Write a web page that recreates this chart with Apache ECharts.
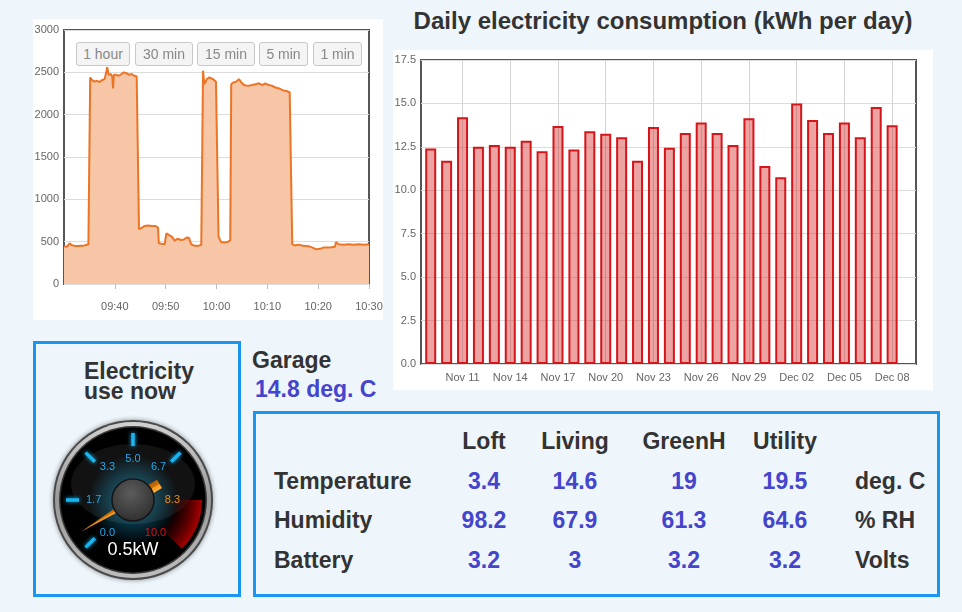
<!DOCTYPE html>
<html>
<head>
<meta charset="utf-8">
<title>Energy dashboard</title>
<script src="https://cdn.jsdelivr.net/npm/echarts@6.0.0/dist/echarts.min.js"></script>
<style>
  html, body { margin: 0; padding: 0; }
  body {
    width: 962px; height: 612px; position: relative; overflow: hidden;
    background: #eef6fc; color: #333;
    font-family: "Liberation Sans", Arial, sans-serif;
  }
  .abs { position: absolute; }
  .white { background: #fff; }
  .range-btn {
    position: absolute; top: 42px; height: 24px; box-sizing: border-box;
    border: 1px solid #c8c8c8; border-radius: 3px; background: #f4f4f4;
    color: #888; font-size: 14px; line-height: 22px; text-align: center;
  }
  .big { font-size: 23px; font-weight: bold; line-height: 28px; white-space: nowrap; }
  .blue { color: #4444cc; }
  .boxed { box-sizing: border-box; border: 3px solid #1b96ef; }
</style>
</head>
<body>
<div id="power-chart" class="abs white" style="left:33px;top:19px;width:350px;height:301px;"></div>
<div id="range-buttons"></div>

<div class="abs" style="left:393px;top:6px;width:540px;text-align:center;font-size:24px;font-weight:bold;line-height:30px;">Daily electricity consumption (kWh per day)</div>
<div id="daily-chart" class="abs white" style="left:393px;top:50px;width:540px;height:340px;"></div>

<div class="abs boxed" style="left:33px;top:341px;width:208px;height:256px;"></div>
<div class="abs" style="left:84px;top:361px;font-size:23px;font-weight:bold;line-height:20px;">Electricity<br>use now</div>
<div id="gauge-chart" class="abs" style="left:48px;top:415px;width:170px;height:170px;"></div>

<div class="abs big" style="left:252px;top:346px;">Garage</div>
<div id="garage-temp" class="abs big blue" style="left:255px;top:375px;"></div>

<div class="abs boxed" style="left:253px;top:411px;width:687px;height:186px;"></div>
<div id="sensor-table"></div>

<script>
  // --- Data ---
  var rangeButtons = ["1 hour", "30 min", "15 min", "5 min", "1 min"];

  var powerTimes = [
    "09:30:00", "09:30:36", "09:31:06", "09:31:30", "09:32:00", "09:33:00", "09:34:00", "09:34:48",
    "09:35:00", "09:35:09", "09:35:30", "09:36:00", "09:36:30", "09:37:00", "09:37:30", "09:38:00",
    "09:38:18", "09:38:30", "09:38:48", "09:39:12", "09:39:30", "09:39:39", "09:39:48", "09:40:18",
    "09:40:48", "09:41:18", "09:41:48", "09:42:18", "09:42:48", "09:43:18", "09:43:48", "09:44:18",
    "09:44:36", "09:44:45", "09:45:12", "09:45:48", "09:46:30", "09:47:18", "09:48:00", "09:48:30",
    "09:48:39", "09:49:12", "09:49:48", "09:50:09", "09:50:36", "09:51:12", "09:51:48", "09:52:18",
    "09:53:00", "09:53:36", "09:54:12", "09:54:36", "09:55:00", "09:55:30", "09:56:18", "09:57:00",
    "09:57:12", "09:57:21", "09:57:36", "09:58:06", "09:58:36", "09:59:18", "09:59:54", "10:00:12",
    "10:00:24", "10:00:54", "10:01:36", "10:02:18", "10:02:42", "10:02:54", "10:03:18", "10:03:54",
    "10:04:24", "10:04:54", "10:05:24", "10:06:12", "10:07:00", "10:07:42", "10:08:24", "10:09:00",
    "10:09:36", "10:10:18", "10:11:00", "10:11:36", "10:12:18", "10:13:00", "10:13:42", "10:14:24",
    "10:14:45", "10:14:54", "10:15:24", "10:16:06", "10:16:48", "10:17:30", "10:18:12", "10:18:54",
    "10:19:36", "10:20:24", "10:21:00", "10:21:48", "10:22:36", "10:23:18", "10:23:30", "10:24:00",
    "10:25:00", "10:26:00", "10:27:00", "10:28:00", "10:29:00", "10:30:00"
  ];
  var powerWatts = [
    445, 440, 480, 460, 450, 450, 455, 470,
    480, 2440, 2410, 2390, 2400, 2385, 2410, 2420,
    2500, 2560, 2470, 2480, 2450, 2310, 2470, 2470,
    2460, 2480, 2500, 2490, 2470, 2480, 2460, 2450,
    2430, 650, 660, 685, 690, 685, 685, 665,
    480, 475, 470, 600, 580, 560, 510, 535,
    520, 525, 550, 545, 470, 455, 450, 460,
    480, 2520, 2360, 2420, 2440, 2420, 2390, 2380,
    560, 495, 490, 500, 520, 2360, 2380, 2390,
    2420, 2380, 2350, 2340, 2350, 2360, 2370, 2350,
    2370, 2350, 2340, 2320, 2310, 2290, 2280, 2265,
    2260, 470, 455, 465, 455, 450, 445, 430,
    410, 415, 430, 430, 435, 440, 495, 470,
    465, 470, 465, 470, 465, 470
  ];

  var dayLabels = [
    "Nov 09", "Nov 10", "Nov 11", "Nov 12", "Nov 13", "Nov 14", "Nov 15", "Nov 16", "Nov 17", "Nov 18",
    "Nov 19", "Nov 20", "Nov 21", "Nov 22", "Nov 23", "Nov 24", "Nov 25", "Nov 26", "Nov 27", "Nov 28",
    "Nov 29", "Nov 30", "Dec 01", "Dec 02", "Dec 03", "Dec 04", "Dec 05", "Dec 06", "Dec 07", "Dec 08"
  ];
  var dailyKwh = [
    12.4, 11.7, 14.2, 12.5, 12.6, 12.5, 12.85, 12.25, 13.7, 12.35,
    13.4, 13.25, 13.05, 11.7, 13.65, 12.45, 13.3, 13.9, 13.3, 12.6,
    14.15, 11.4, 10.75, 15.0, 14.05, 13.3, 13.9, 13.05, 14.8, 13.75
  ];
  var dayTickLabels = ["Nov 11", "Nov 14", "Nov 17", "Nov 20", "Nov 23", "Nov 26", "Nov 29", "Dec 02", "Dec 05", "Dec 08"];

  var powerNowKw = 0.5;
  var garageTemp = "14.8";

  var tableColumns = ["Loft", "Living", "GreenH", "Utility"];
  var tableRows = ["Temperature", "Humidity", "Battery"];
  var tableUnits = ["deg. C", "% RH", "Volts"];
  var temperatureValues = ["3.4", "14.6", "19", "19.5"];
  var humidityValues = ["98.2", "67.9", "61.3", "64.6"];
  var batteryValues = ["3.2", "3", "3.2", "3.2"];

  var FONT = "Liberation Sans, Arial, sans-serif";
  var LABEL = "#666";
  var GRID = "#dcdcdc";
  var FRAME = "#555";

  // --- Range buttons (html) ---
  var btnLeft = [76, 135, 197, 259, 313];
  var btnWidth = [54, 58, 58, 49, 49];
  var btnHtml = "";
  rangeButtons.forEach(function (b, i) {
    btnHtml += '<div class="range-btn" style="left:' + btnLeft[i] + 'px;width:' + btnWidth[i] + 'px;">' + b + "</div>";
  });
  document.getElementById("range-buttons").innerHTML = btnHtml;

  // --- Power chart (last hour) ---
  function toMinutes(t) {
    var p = t.split(":");
    return (Number(p[0]) * 60 + Number(p[1]) + Number(p[2]) / 60) - (9 * 60 + 30);
  }
  function clockLabel(m) {
    var total = 9 * 60 + 30 + m;
    var h = Math.floor(total / 60), mm = total % 60;
    return (h < 10 ? "0" : "") + h + ":" + (mm < 10 ? "0" : "") + mm;
  }

  var powerChart = echarts.init(document.getElementById("power-chart"));
  powerChart.setOption({
    animation: false,
    textStyle: { fontFamily: FONT },
    grid: { left: 31, right: 14, top: 11, bottom: 36, outerBoundsMode: "none", containLabel: false,
      show: true, borderColor: FRAME, borderWidth: 2 },
    xAxis: {
      type: "value", min: 0, max: 60, interval: 10,
      axisLine: { show: false },
      axisTick: { show: true, length: 5, lineStyle: { color: "#bbb" } },
      axisLabel: { color: LABEL, fontSize: 11, margin: 17, showMinLabel: false, formatter: clockLabel },
      splitLine: { show: false }
    },
    yAxis: {
      type: "value", min: 0, max: 3000, interval: 500,
      axisLine: { show: false }, axisTick: { show: false },
      axisLabel: { color: LABEL, fontSize: 11, margin: 5, formatter: function (v) { return String(v); } },
      splitLine: { lineStyle: { color: GRID } }
    },
    series: [{
      type: "line",
      data: powerTimes.map(function (t, i) { return [toMinutes(t), powerWatts[i]]; }),
      symbol: "none",
      lineStyle: { color: "#ec7424", width: 2 },
      areaStyle: { color: "#f7c6a6", opacity: 1 }
    }]
  });

  // --- Daily consumption chart ---
  var tickDays = dayTickLabels.map(function (l) { return dayLabels.indexOf(l); });
  var dailyChart = echarts.init(document.getElementById("daily-chart"));
  dailyChart.setOption({
    animation: false,
    textStyle: { fontFamily: FONT },
    grid: { left: 28, right: 17, top: 10, bottom: 26, outerBoundsMode: "none", containLabel: false,
      show: true, borderColor: FRAME, borderWidth: 2 },
    xAxis: {
      type: "value", min: -0.61, max: 30.5,
      axisLine: { show: false },
      axisTick: { show: false, customValues: tickDays },
      axisLabel: {
        customValues: tickDays, color: LABEL, fontSize: 11, margin: 8,
        formatter: function (v) { return dayLabels[Math.round(v)]; }
      },
      splitLine: { show: true, lineStyle: { color: "#d4d4d4" } }
    },
    yAxis: {
      type: "value", min: 0, max: 17.5, interval: 2.5,
      axisLine: { show: false }, axisTick: { show: false },
      axisLabel: { color: LABEL, fontSize: 11, margin: 5, formatter: function (v) { return v.toFixed(1); } },
      splitLine: { lineStyle: { color: GRID } }
    },
    series: [{
      type: "bar",
      data: dailyKwh.map(function (v, i) { return [i, v]; }),
      barWidth: 11,
      itemStyle: { color: "rgba(215,35,35,0.42)", borderColor: "#d4161b", borderWidth: 2 }
    }]
  });

  // --- Gauge ---
  var gaugeChart = echarts.init(document.getElementById("gauge-chart"));
  var C = 85;
  gaugeChart.setOption({
    animation: false,
    graphic: [
      { type: "circle", z: -10, shape: { cx: C, cy: C, r: 80 }, style: { fill: "#4a4a4a", shadowBlur: 5, shadowColor: "rgba(0,0,0,0.45)" } },
      { type: "circle", z: -9, shape: { cx: C, cy: C, r: 78 },
        style: { fill: new echarts.graphic.LinearGradient(0, 0, 0, 1, [
          { offset: 0, color: "#d2d2d2" }, { offset: 0.5, color: "#9a9a9a" }, { offset: 1, color: "#bdbdbd" }]) } },
      { type: "circle", z: -8, shape: { cx: C, cy: C, r: 74 }, style: { fill: "#3a3a3a" } },
      { type: "circle", z: -7, shape: { cx: C, cy: C, r: 72.5 },
        style: { fill: new echarts.graphic.RadialGradient(0.5, 0.5, 0.5, [
          { offset: 0, color: "#0f5870" }, { offset: 0.3, color: "#08384a" }, { offset: 0.62, color: "#000" }, { offset: 1, color: "#000" }]) } },
      { type: "ellipse", z: -6, shape: { cx: C, cy: C - 16, rx: 62, ry: 40 }, style: { fill: "rgba(255,255,255,0.07)" } }
    ],
    series: [
      {
        type: "gauge", center: ["50%", "50%"], radius: 69,
        startAngle: 225, endAngle: -45, min: 0, max: 10,
        axisLine: { lineStyle: { width: 32, color: [
          [5 / 6, "rgba(0,0,0,0)"],
          [1, new echarts.graphic.RadialGradient(C, C, 69, [
            { offset: 0, color: "rgba(120,0,0,0)" }, { offset: 0.58, color: "rgba(100,0,0,0)" },
            { offset: 0.82, color: "rgba(115,0,0,0.7)" }, { offset: 1, color: "#a80000" }], true)]
        ] } },
        splitLine: { show: false }, axisTick: { show: false }, axisLabel: { show: false },
        pointer: { show: false }, detail: { show: false }, title: { show: false },
        data: [{ value: 0 }]
      },
      {
        type: "gauge", center: ["50%", "50%"], radius: 70,
        startAngle: 225, endAngle: -45, min: 0, max: 10, splitNumber: 6,
        axisLine: { show: false, lineStyle: { width: 0, color: [[0.7, "#19b5f0"], [1, "rgba(0,0,0,0)"]] } },
        splitLine: { show: true, length: 13, distance: 3, lineStyle: { color: "auto", width: 3.5, shadowBlur: 4, shadowColor: "#19b5f0" } },
        axisTick: { show: false },
        axisLabel: {
          distance: 7, fontSize: 11, fontFamily: FONT, color: "#1eaaf0",
          formatter: function (v) {
            var s = v.toFixed(1);
            if (v > 9.9) return "{r|" + s + "}";
            if (v > 8) return "{o|" + s + "}";
            return "{c|" + s + "}";
          },
          rich: {
            c: { color: "#1eaaf0", fontSize: 11, fontFamily: FONT },
            o: { color: "#e8900c", fontSize: 11, fontFamily: FONT },
            r: { color: "#e81010", fontSize: 11, fontFamily: FONT }
          }
        },
        pointer: {
          show: true,
          icon: "path://M5 0 L8.5 61 L8.5 76 L9.8 76 L9.8 92 L0.2 92 L0.2 76 L1.5 76 L1.5 61 Z",
          length: 92, width: 9.6, offsetCenter: [0, 31],
          itemStyle: { color: new echarts.graphic.LinearGradient(0, 0, 1, 0, [
            { offset: 0, color: "#ffb23c" }, { offset: 0.5, color: "#f29418" },
            { offset: 0.5, color: "#cf7208" }, { offset: 1, color: "#b35c00" }]) }
        },
        anchor: {
          show: true, showAbove: true, size: 42,
          itemStyle: {
            color: new echarts.graphic.RadialGradient(0.45, 0.35, 0.7, [
              { offset: 0, color: "#5c5c5c" }, { offset: 1, color: "#2c2c2c" }]),
            borderColor: "#151515", borderWidth: 1.5
          }
        },
        title: { show: false },
        detail: {
          show: true, offsetCenter: [0, 50], color: "#fff", fontSize: 18, fontFamily: FONT, fontWeight: "normal",
          formatter: function (v) { return v.toFixed(1) + "kW"; }
        },
        data: [{ value: powerNowKw }]
      }
    ]
  });

  // --- Garage + sensor table (html) ---
  document.getElementById("garage-temp").textContent = garageTemp + " deg. C";

  var colCenters = [484, 575, 684, 785];
  var rowTops = [467, 506, 546];
  var html = "";
  tableColumns.forEach(function (c, i) {
    html += '<div class="abs big" style="left:' + (colCenters[i] - 60) + 'px;width:120px;text-align:center;top:427px;">' + c + "</div>";
  });
  [temperatureValues, humidityValues, batteryValues].forEach(function (vals, r) {
    html += '<div class="abs big" style="left:274px;top:' + rowTops[r] + 'px;">' + tableRows[r] + "</div>";
    vals.forEach(function (v, i) {
      html += '<div class="abs big blue" style="left:' + (colCenters[i] - 60) + 'px;width:120px;text-align:center;top:' + rowTops[r] + 'px;">' + v + "</div>";
    });
    html += '<div class="abs big" style="left:855px;top:' + rowTops[r] + 'px;">' + tableUnits[r] + "</div>";
  });
  document.getElementById("sensor-table").innerHTML = html;
</script>
</body>
</html>
